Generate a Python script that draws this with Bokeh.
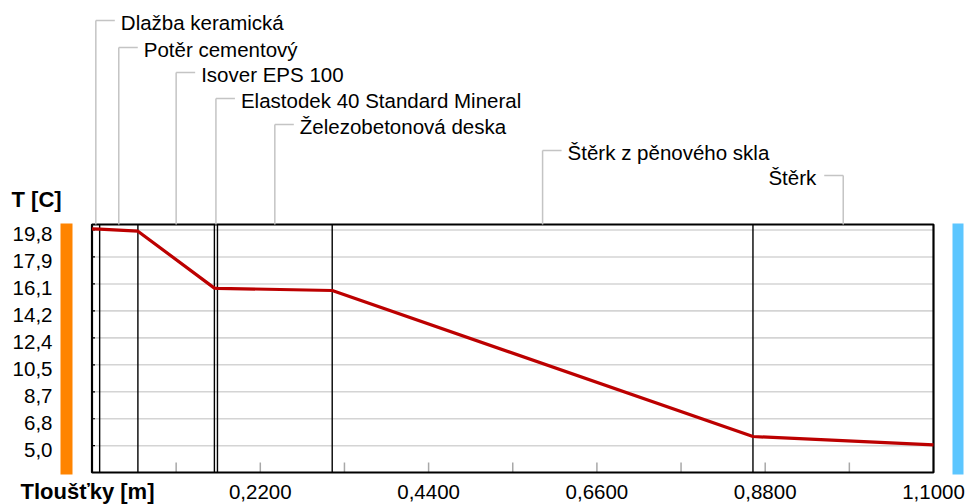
from bokeh.plotting import figure
from bokeh.models import Range1d
from bokeh.core.properties import value
from bokeh.embed import file_html
from bokeh.resources import INLINE

# ---------------- data ----------------
layer_names = ["Dlažba keramická", "Potěr cementový", "Isover EPS 100",
               "Elastodek 40 Standard Mineral", "Železobetonová deska",
               "Štěrk z pěnového skla", "Štěrk"]
layer_thickness = [0.010, 0.050, 0.100, 0.004, 0.150, 0.550, 0.236]
interface_temp = [19.88, 19.86, 19.72, 15.81, 15.80, 15.65, 5.63, 5.06]
y_tick_values = [19.8, 17.95, 16.1, 14.25, 12.4, 10.55, 8.7, 6.85, 5.0]
y_tick_labels = ["19,8", "17,9", "16,1", "14,2", "12,4", "10,5", "8,7", "6,8", "5,0"]
x_minor_ticks = [0.11, 0.22, 0.33, 0.44, 0.55, 0.66, 0.77, 0.88, 0.99]
x_tick_values = [0.22, 0.44, 0.66, 0.88, 1.10]
x_tick_labels = ["0,2200", "0,4400", "0,6600", "0,8800", "1,1000"]
y_axis_title = "T [C]"
x_axis_title = "Tloušťky [m]"

# ---------------- layout ----------------
W, H = 966, 504
PAGE = 0
X_MAX = 1.1
FR_L, FR_R, FR_T, FR_B = 91.5, 933.0, 224.0, 472.0
SX = (FR_R - FR_L) / X_MAX
Y_REF_V, Y_REF_P = 19.8, 229.5
SY = (445.2 - 229.5) / (19.8 - 5.0)


def dx(px):
    return (px - FR_L) / SX


def dy(py):
    return Y_REF_V - (py - Y_REF_P) / SY


FONT = value("Liberation Sans")
FS = value("20.5px")
FSB = value("22px")

p = figure(width=W, height=H, output_backend="svg", toolbar_location=None,
           x_axis_type=None, y_axis_type=None, min_border=0,
           x_range=Range1d(dx(PAGE), dx(PAGE + W)),
           y_range=Range1d(dy(PAGE + H), dy(PAGE)))
p.outline_line_color = None
p.background_fill_color = "white"
p.border_fill_color = "white"

y_min, y_max = dy(FR_B), dy(FR_T)

# interfaces
interfaces = [0.0]
for t in layer_thickness:
    interfaces.append(round(interfaces[-1] + t, 6))
mids = [(a + b) / 2 for a, b in zip(interfaces[:-1], interfaces[1:])]

# horizontal grid lines
p.segment(x0=[0.0] * len(y_tick_values), x1=[X_MAX] * len(y_tick_values),
          y0=y_tick_values, y1=y_tick_values, line_color="#D4D4D4", line_width=1.6)
# left tick marks
p.segment(x0=[0.0] * len(y_tick_values), x1=[dx(FR_L + 3)] * len(y_tick_values),
          y0=y_tick_values, y1=y_tick_values, line_color="black", line_width=1.2)
# bottom minor ticks
p.segment(x0=x_minor_ticks, x1=x_minor_ticks,
          y0=[y_min] * len(x_minor_ticks), y1=[dy(FR_B - 10)] * len(x_minor_ticks),
          line_color="#A8A8A8", line_width=1.5)
# layer boundaries
p.segment(x0=interfaces[:-1], x1=interfaces[:-1],
          y0=[y_min] * (len(interfaces) - 1), y1=[y_max] * (len(interfaces) - 1),
          line_color="black", line_width=1.4)
# frame
p.quad(left=[0.0], right=[X_MAX], bottom=[y_min], top=[y_max],
       fill_color=None, line_color="black", line_width=2.2)
# temperature curve
p.line(interfaces, interface_temp, line_color="#BC0000", line_width=3.2)

# side bars (interior / exterior)
p.quad(left=[dx(60)], right=[dx(72)], bottom=[dy(474)], top=[dy(223)],
       fill_color="#FF8400", line_color=None)
p.quad(left=[dx(952)], right=[dx(963)], bottom=[dy(474)], top=[dy(223)],
       fill_color="#5CC6FF", line_color=None)

# layer labels with leaders
rows = [20, 47, 72, 98, 124, 150, 175]
lead = 19 / SX
vx0, vy0, vx1, vy1 = [], [], [], []
hx0, hx1, hy = [], [], []
tx_r, ty_r, tt_r = [], [], []
tx_l, ty_l, tt_l = [], [], []
for name, m, r in zip(layer_names, mids, rows):
    vx0.append(m); vx1.append(m); vy0.append(dy(r)); vy1.append(y_max)
    hy.append(dy(r))
    if m > 0.9:
        hx0.append(m - lead); hx1.append(m)
        tx_l.append(m - 27 / SX); ty_l.append(dy(r + 1.5)); tt_l.append(name)
    else:
        hx0.append(m); hx1.append(m + lead)
        tx_r.append(m + 25 / SX); ty_r.append(dy(r + 1.5)); tt_r.append(name)
p.segment(x0=vx0, x1=vx1, y0=vy0, y1=vy1, line_color="#C4C4C4", line_width=1.5)
p.segment(x0=hx0, x1=hx1, y0=hy, y1=hy, line_color="#C4C4C4", line_width=1.5)
p.text(x=tx_r, y=ty_r, text=tt_r, text_font=FONT, text_font_size=FS,
       text_align="left", text_baseline="middle", text_color="black")
p.text(x=tx_l, y=ty_l, text=tt_l, text_font=FONT, text_font_size=FS,
       text_align="right", text_baseline="middle", text_color="black")

# y tick labels
p.text(x=[dx(52)] * len(y_tick_values), y=[v - 4 / SY for v in y_tick_values],
       text=y_tick_labels, text_font=FONT, text_font_size=FS,
       text_align="right", text_baseline="middle", text_color="black")
# x tick labels
p.text(x=x_tick_values, y=[dy(491)] * len(x_tick_values), text=x_tick_labels,
       text_font=FONT, text_font_size=FS, text_align="center",
       text_baseline="middle", text_color="black")
# axis titles
p.text(x=[dx(11)], y=[dy(199)], text=[y_axis_title], text_font=FONT,
       text_font_size=FSB, text_font_style="bold", text_align="left",
       text_baseline="middle", text_color="black")
p.text(x=[dx(20)], y=[dy(491)], text=[x_axis_title], text_font=FONT,
       text_font_size=FSB, text_font_style="bold", text_align="left",
       text_baseline="middle", text_color="black")

open("out.html", "w").write(file_html(p, INLINE))
